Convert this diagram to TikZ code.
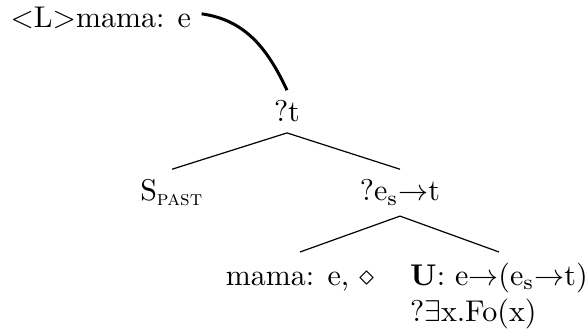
\documentclass[tikz,border=0pt]{standalone}
\begin{document}
\begin{tikzpicture}[x={(0.3333pt,0pt)}, y={(0pt,-0.3333pt)},
    link/.style={line width=1pt},
    branch/.style={line width=0.4pt}]
\useasboundingbox (0,0) rectangle (585,333);

% Linked node, top left
\node[anchor=base west] (lnk) at (0,28) {$<$L$>$mama: e};

% Tree nodes (placed at their baselines)
\node[anchor=base] (t) at (287,122) {?t};
\node[anchor=base] (sp) at (172,201) {S\textsubscript{\textsc{past}}};
\node[anchor=base] (es) at (400,201) {?e$_{\mathrm{s}}$$\rightarrow$t};
\node[anchor=north, text height=7.5pt] (lx) at (300,252) {mama: e, $\diamond$};
\node[anchor=north, align=left] (ux) at (499,252)
    {\textbf{U}: e$\rightarrow$(e$_{\mathrm{s}}$$\rightarrow$t)\\ ?$\exists$x.Fo(x)};

% Link to the root
\draw[link] ([yshift=1.5pt]lnk.east) to[out=-8, in=115] (t.north);

% Branches
\foreach \a/\b in {t/sp, t/es, es/lx, es/ux} {
    \draw[branch] (\a.south) -- (\b.north);
}
\end{tikzpicture}
\end{document}
